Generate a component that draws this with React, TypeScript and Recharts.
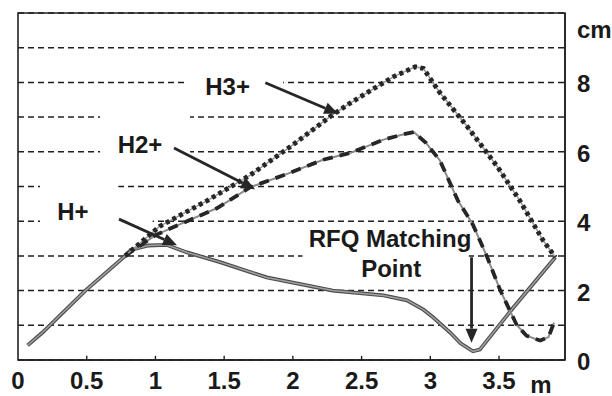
import React from 'react';
import {
  ComposedChart,
  Line,
  XAxis,
  YAxis,
  CartesianGrid,
  ReferenceArea,
  ReferenceLine,
  ReferenceDot,
} from 'recharts';

// Beam envelope (cm) along the line (m) for each ion species
const hPlusX = [0.07, 0.18, 0.49, 0.78, 0.82, 0.95, 1.08, 1.23, 1.47, 1.81, 2.29, 2.66, 2.83, 2.95, 3.02, 3.15, 3.22, 3.31, 3.36, 3.6, 3.91];
const hPlusY = [0.42, 0.8, 2.0, 3.0, 3.17, 3.3, 3.32, 3.1, 2.82, 2.38, 2.0, 1.86, 1.72, 1.45, 1.23, 0.77, 0.48, 0.25, 0.3, 1.49, 2.96];

const h2PlusX = [0.78, 1.0, 1.23, 1.45, 1.69, 1.95, 2.22, 2.42, 2.66, 2.8, 2.88, 2.97, 3.07, 3.2, 3.31, 3.41, 3.51, 3.63, 3.7, 3.8, 3.86, 3.9];
const h2PlusY = [3.0, 3.6, 4.0, 4.38, 4.98, 5.35, 5.77, 5.97, 6.35, 6.5, 6.57, 6.25, 5.75, 4.6, 3.9, 3.0, 2.0, 1.0, 0.7, 0.56, 0.66, 1.08];

const h3PlusX = [0.78, 1.03, 1.38, 1.69, 2.0, 2.29, 2.42, 2.6, 2.73, 2.89, 2.95, 3.07, 3.27, 3.49, 3.65, 3.82, 3.91];
const h3PlusY = [3.0, 3.85, 4.6, 5.33, 6.2, 7.07, 7.41, 7.85, 8.16, 8.45, 8.4, 7.7, 6.72, 5.56, 4.6, 3.45, 2.96];

// Axes
const xMax = 3.98;
const yMax = 10;
const xTicks = [0, 0.5, 1, 1.5, 2, 2.5, 3, 3.5, xMax];
const xTickLabels = ['0', '0.5', '1', '1.5', '2', '2.5', '3', '3.5', 'm'];
const xMinorTicks = [0.5, 1, 1.5, 2, 2.5, 3, 3.5];
const yTicks = [0, 1, 2, 3, 4, 5, 6, 7, 8, 9, 10];
const yTickLabels: Record<number, string> = { 0: '0', 2: '2', 4: '4', 6: '6', 8: '8', 10: 'cm' };

// Annotation texts and arrows (data coordinates)
const labelTexts = ['H3+', 'H2+', 'H+', 'RFQ Matching', 'Point'];
const labelX = [1.525, 0.888, 0.4, 2.707, 2.715];
const labelY = [7.64, 5.97, 4.03, 3.25, 2.38];

const arrowFrom = [
  { x: 1.8, y: 7.99 },
  { x: 1.135, y: 6.11 },
  { x: 0.735, y: 4.06 },
  { x: 3.3, y: 2.96 },
];
const arrowTo = [
  { x: 2.33, y: 7.1 },
  { x: 1.725, y: 4.92 },
  { x: 1.157, y: 3.31 },
  { x: 3.3, y: 0.5 },
];

// White backing behind the text boxes (hides the grid there)
const maskX1 = [1.215, 0.597, 0.16, 0.16, 2.07];
const maskX2 = [1.929, 1.252, 0.73, 0.98, 3.28];
const maskY1 = [7.8, 5.8, 4.5, 3.9, 2.85];
const maskY2 = [8.2, 7.2, 5.2, 4.12, 3.15];

const toPoints = (xs: number[], ys: number[]) => xs.map((x, i) => ({ x, y: ys[i] }));
const hPlus = toPoints(hPlusX, hPlusY);
const h2Plus = toPoints(h2PlusX, h2PlusY);
const h3Plus = toPoints(h3PlusX, h3PlusY);

const FONT = '"Liberation Sans", Arial, Helvetica, sans-serif';
const INK = '#1a1a1a';

const XTick = (props: any) => {
  const { x, y, index } = props;
  const label = xTickLabels[index];
  if (label === 'm') {
    return (
      <text x={x - 24} y={y + 32.5} textAnchor="middle" fontFamily={FONT} fontWeight="bold" fontSize={24} fill={INK}>
        m
      </text>
    );
  }
  return (
    <text x={x} y={y + 28.5} textAnchor="middle" fontFamily={FONT} fontWeight="bold" fontSize={24} fill={INK}>
      {label}
    </text>
  );
};

const YTick = (props: any) => {
  const { x, y, payload } = props;
  const label = yTickLabels[payload.value];
  if (label === undefined) return null;
  if (label === 'cm') {
    return (
      <text x={x + 12} y={y + 25} textAnchor="start" fontFamily={FONT} fontWeight="bold" fontSize={24} fill={INK}>
        cm
      </text>
    );
  }
  return (
    <text x={x + 12} y={y + 10} textAnchor="start" fontFamily={FONT} fontWeight="bold" fontSize={24} fill={INK}>
      {label}
    </text>
  );
};

const Arrow = (props: any) => {
  const { x1, y1, x2, y2 } = props;
  const dx = x2 - x1;
  const dy = y2 - y1;
  const len = Math.sqrt(dx * dx + dy * dy) || 1;
  const ux = dx / len;
  const uy = dy / len;
  const headLen = 14;
  const headHalf = 6;
  const bx = x2 - ux * headLen;
  const by = y2 - uy * headLen;
  const px = -uy;
  const py = ux;
  return (
    <g>
      <line x1={x1} y1={y1} x2={bx} y2={by} stroke="#262626" strokeWidth={2.8} />
      <polygon
        points={`${x2},${y2} ${bx + px * headHalf},${by + py * headHalf} ${bx - px * headHalf},${by - py * headHalf}`}
        fill="#262626"
      />
    </g>
  );
};

const makeTextShape = (text: string) => (props: any) => {
  const { cx, cy } = props;
  return (
    <text x={cx} y={cy} textAnchor="middle" fontFamily={FONT} fontWeight="bold" fontSize={24} fill={INK}>
      {text}
    </text>
  );
};

export default function App() {
  return (
    <div style={{ position: 'absolute', left: 0, top: 0, width: 612, height: 396, background: '#fff' }}>
      <ComposedChart width={612} height={396} margin={{ top: 13, right: 0, bottom: 0, left: 18 }}>
        <CartesianGrid
          vertical={false}
          stroke="#1f1f1f"
          strokeWidth={1.5}
          strokeDasharray="6 4"
        />
        <XAxis
          type="number"
          dataKey="x"
          domain={[0, xMax]}
          ticks={xTicks}
          interval={0}
          allowDataOverflow
          height={36}
          tickLine={false}
          tickSize={0}
          tickMargin={0}
          axisLine={{ stroke: '#222', strokeWidth: 1.6 }}
          tick={<XTick />}
        />
        <YAxis
          type="number"
          orientation="right"
          domain={[0, yMax]}
          ticks={yTicks}
          interval={0}
          allowDataOverflow
          width={47}
          tickLine={false}
          tickSize={0}
          tickMargin={0}
          axisLine={{ stroke: '#222', strokeWidth: 1.6 }}
          tick={<YTick />}
        />

        {maskX1.map((x1, i) => (
          <ReferenceArea
            key={`mask-${i}`}
            x1={x1}
            x2={maskX2[i]}
            y1={maskY1[i]}
            y2={maskY2[i]}
            fill="#ffffff"
            fillOpacity={1}
            stroke="none"
          />
        ))}

        <ReferenceArea x1={0} x2={xMax} y1={0} y2={yMax} fill="none" stroke="#222" strokeWidth={1.6} />

        {xMinorTicks.map((v) => (
          <ReferenceLine
            key={`xt-${v}`}
            segment={[{ x: v, y: 0 }, { x: v, y: 0.12 }]}
            stroke="#222"
            strokeWidth={1.4}
          />
        ))}

        {/* H+ : solid grey */}
        <Line data={hPlus} dataKey="y" type="linear" stroke="#4d4d4d" strokeWidth={3.8} dot={false} activeDot={false} isAnimationActive={false} />
        <Line data={hPlus} dataKey="y" type="linear" stroke="#a0a0a0" strokeWidth={1.5} dot={false} activeDot={false} isAnimationActive={false} />

        {/* H2+ : grey line with dark dashes */}
        <Line data={h2Plus} dataKey="y" type="linear" stroke="#8a8a8a" strokeWidth={2} dot={false} activeDot={false} isAnimationActive={false} />
        <Line data={h2Plus} dataKey="y" type="linear" stroke="#262626" strokeWidth={3.8} strokeDasharray="10 7" dot={false} activeDot={false} isAnimationActive={false} />

        {/* H3+ : dotted */}
        <Line data={h3Plus} dataKey="y" type="linear" stroke="#999" strokeWidth={1.5} dot={false} activeDot={false} isAnimationActive={false} />
        <Line data={h3Plus} dataKey="y" type="linear" stroke="#262626" strokeWidth={4.8} strokeDasharray="4 3.5" dot={false} activeDot={false} isAnimationActive={false} />

        {arrowFrom.map((p, i) => (
          <ReferenceLine key={`arrow-${i}`} segment={[p, arrowTo[i]]} shape={<Arrow />} />
        ))}

        {labelTexts.map((t, i) => (
          <ReferenceDot key={`label-${i}`} x={labelX[i]} y={labelY[i]} r={0} shape={makeTextShape(t)} />
        ))}
      </ComposedChart>
    </div>
  );
}
